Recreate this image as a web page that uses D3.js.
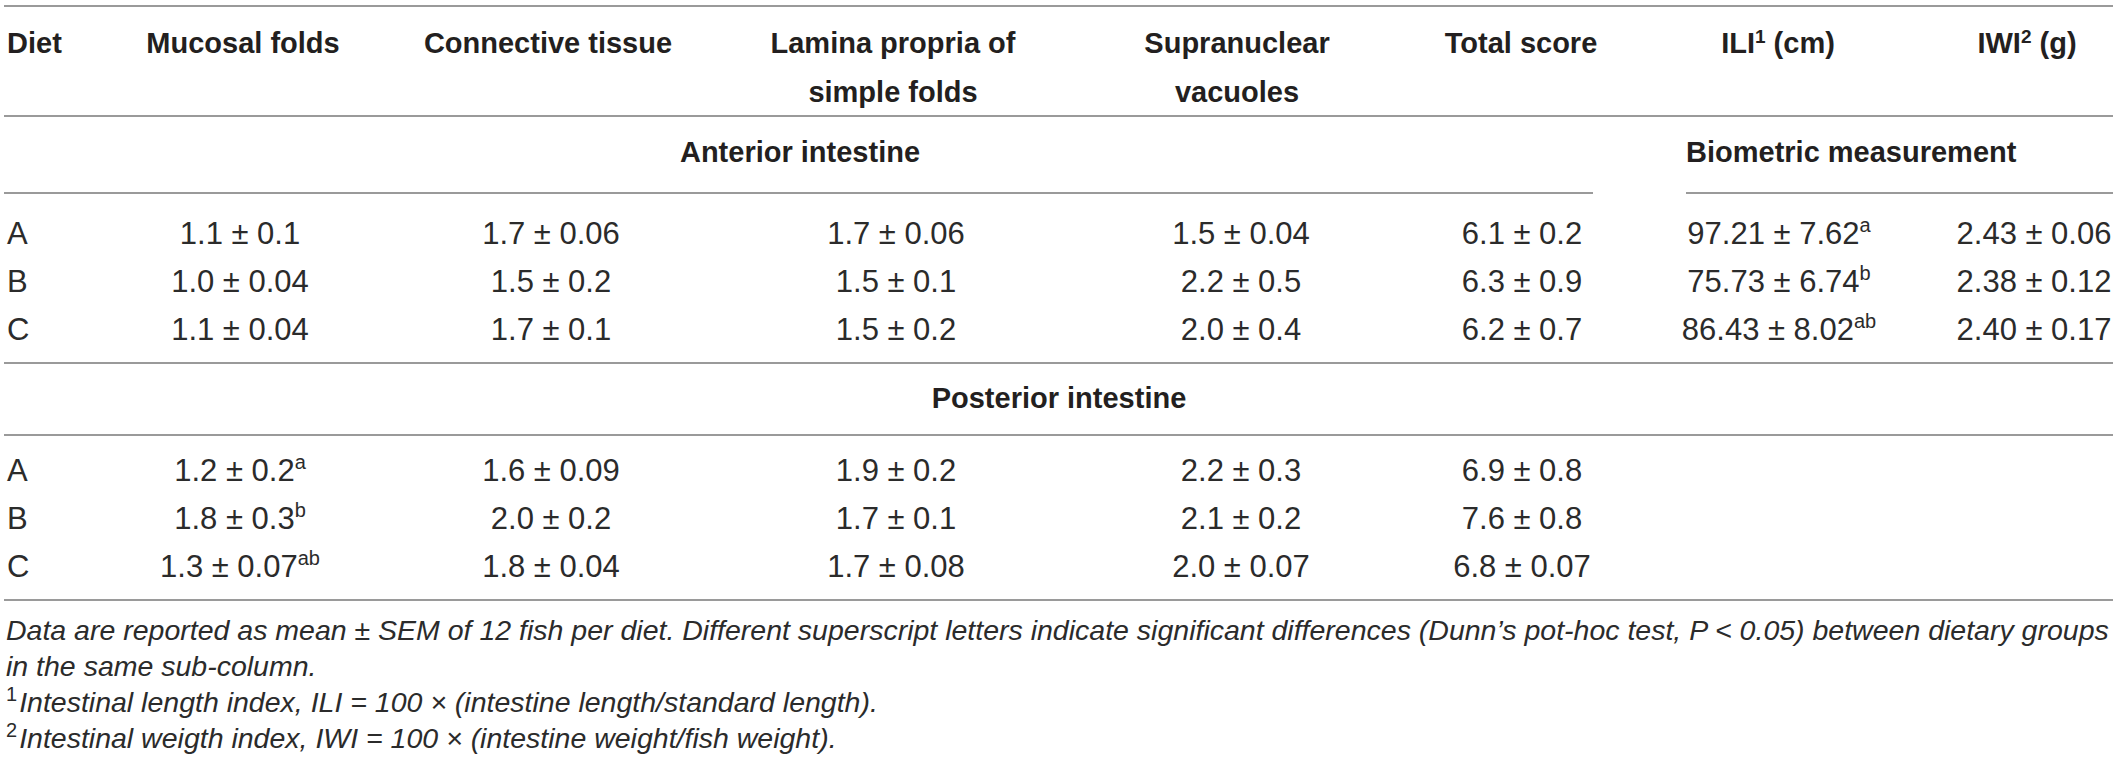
<!DOCTYPE html>
<html>
<head>
<meta charset="utf-8">
<script src="https://d3js.org/d3.v7.min.js"></script>
<style>
  body { margin: 0; background: #fff; }
  text { font-family: "Liberation Sans", Arial, Helvetica, sans-serif; fill: #231f20; }
  .head { font-weight: bold; font-size: 29px; }
  .cell { font-size: 31px; fill: #2b2b2b; }
  .note { font-size: 28.5px; font-style: italic; fill: #2b2b2b; }
</style>
</head>
<body>
<div id="viz"></div>
<script>
// ---- table data ----
var diets = ["A", "B", "C"];
var columns = ["muc", "con", "lam", "sup", "tot", "ili", "iwi"];
var headers = [
  ["Mucosal folds"],
  ["Connective tissue"],
  ["Lamina propria of", "simple folds"],
  ["Supranuclear", "vacuoles"],
  ["Total score"],
  ["ILI", "1", " (cm)"],
  ["IWI", "2", " (g)"]
];
var anterior = [
  ["1.1 ± 0.1", "1.7 ± 0.06", "1.7 ± 0.06", "1.5 ± 0.04", "6.1 ± 0.2"],
  ["1.0 ± 0.04", "1.5 ± 0.2", "1.5 ± 0.1", "2.2 ± 0.5", "6.3 ± 0.9"],
  ["1.1 ± 0.04", "1.7 ± 0.1", "1.5 ± 0.2", "2.0 ± 0.4", "6.2 ± 0.7"]
];
var posterior = [
  ["1.2 ± 0.2", "1.6 ± 0.09", "1.9 ± 0.2", "2.2 ± 0.3", "6.9 ± 0.8"],
  ["1.8 ± 0.3", "2.0 ± 0.2", "1.7 ± 0.1", "2.1 ± 0.2", "7.6 ± 0.8"],
  ["1.3 ± 0.07", "1.8 ± 0.04", "1.7 ± 0.08", "2.0 ± 0.07", "6.8 ± 0.07"]
];
var posteriorSup = [
  ["a", "", "", "", ""],
  ["b", "", "", "", ""],
  ["ab", "", "", "", ""]
];
var biometric = [
  ["97.21 ± 7.62", "2.43 ± 0.06"],
  ["75.73 ± 6.74", "2.38 ± 0.12"],
  ["86.43 ± 8.02", "2.40 ± 0.17"]
];
var biometricSup = [
  ["a", ""],
  ["b", ""],
  ["ab", ""]
];
var notes = [
  ["", "Data are reported as mean ± SEM of 12 fish per diet. Different superscript letters indicate significant differences (Dunn\u2019s pot-hoc test, P < 0.05) between dietary groups"],
  ["", "in the same sub-column."],
  ["1", "Intestinal length index, ILI = 100 × (intestine length/standard length)."],
  ["2", "Intestinal weigth index, IWI = 100 × (intestine weight/fish weight)."]
];

var width = 2118, height = 761;

var svg = d3.select("#viz").append("svg")
  .attr("width", width)
  .attr("height", height);

// column centres (values) and header centres
var x = d3.scaleOrdinal().domain(columns)
  .range([240, 551, 896, 1241, 1522, 1779, 2034]);
var xHead = d3.scaleOrdinal().domain(columns)
  .range([243, 548, 893, 1237, 1521, 1778, 2027]);

var yAnt = d3.scalePoint().domain(diets).range([233, 329]);
var yPost = d3.scalePoint().domain(diets).range([470, 566]);
var yNote = d3.scaleLinear().domain([0, 3]).range([640, 748]);

// rules
var rules = [
  {y: 6, x1: 4, x2: 2113},
  {y: 116, x1: 4, x2: 2113},
  {y: 193, x1: 4, x2: 1593},
  {y: 193, x1: 1686, x2: 2113},
  {y: 363, x1: 4, x2: 2113},
  {y: 435, x1: 4, x2: 2113},
  {y: 600, x1: 4, x2: 2113}
];
svg.selectAll("line.rule").data(rules).enter().append("line")
  .attr("class", "rule")
  .attr("x1", function(d) { return d.x1; })
  .attr("x2", function(d) { return d.x2; })
  .attr("y1", function(d) { return d.y; })
  .attr("y2", function(d) { return d.y; })
  .attr("stroke", "#9a9a9a")
  .attr("stroke-width", 2);

// header row
svg.append("text").attr("class", "head").attr("x", 7).attr("y", 53).text("Diet");

headers.forEach(function(h, i) {
  var col = columns[i];
  if (col == "ili" || col == "iwi") {
    var t = svg.append("text").attr("class", "head")
      .attr("x", xHead(col)).attr("y", 53).attr("text-anchor", "middle");
    t.append("tspan").text(h[0]);
    t.append("tspan").attr("dy", -10).style("font-size", "19px").text(h[1]);
    t.append("tspan").attr("dy", 10).text(h[2]);
  } else {
    h.forEach(function(line, j) {
      svg.append("text").attr("class", "head")
        .attr("x", xHead(col)).attr("y", 53 + j * 49)
        .attr("text-anchor", "middle")
        .text(line);
    });
  }
});

// section labels
svg.append("text").attr("class", "head").attr("x", 800).attr("y", 162)
  .attr("text-anchor", "middle").text("Anterior intestine");
svg.append("text").attr("class", "head").attr("x", 1686).attr("y", 162)
  .text("Biometric measurement");
svg.append("text").attr("class", "head").attr("x", 1059).attr("y", 408)
  .attr("text-anchor", "middle").text("Posterior intestine");

function cell(xc, yc, txt, sup) {
  var t = svg.append("text").attr("class", "cell")
    .attr("x", xc).attr("y", yc + 11).attr("text-anchor", "middle");
  t.append("tspan").text(txt);
  if (sup) t.append("tspan").attr("dy", -12).style("font-size", "20px").text(sup);
}

function block(yScale, rows, sups, cols) {
  diets.forEach(function(dt, r) {
    svg.append("text").attr("class", "cell").attr("x", 7).attr("y", yScale(dt) + 11).text(dt);
    rows[r].forEach(function(v, c) {
      cell(x(cols[c]), yScale(dt), v, sups ? sups[r][c] : "");
    });
  });
}

block(yAnt, anterior, null, columns.slice(0, 5));
diets.forEach(function(dt, r) {
  biometric[r].forEach(function(v, c) {
    cell(x(columns[5 + c]), yAnt(dt), v, biometricSup[r][c]);
  });
});
block(yPost, posterior, posteriorSup, columns.slice(0, 5));

// footnotes
notes.forEach(function(n, i) {
  var t = svg.append("text").attr("class", "note").attr("x", 6).attr("y", yNote(i));
  if (n[0]) {
    t.append("tspan").attr("dy", -11).style("font-style", "normal").style("font-size", "20px").text(n[0]);
    t.append("tspan").attr("dy", 11).attr("dx", 2).text(n[1]);
  } else {
    t.text(n[1]);
  }
});
</script>
</body>
</html>
